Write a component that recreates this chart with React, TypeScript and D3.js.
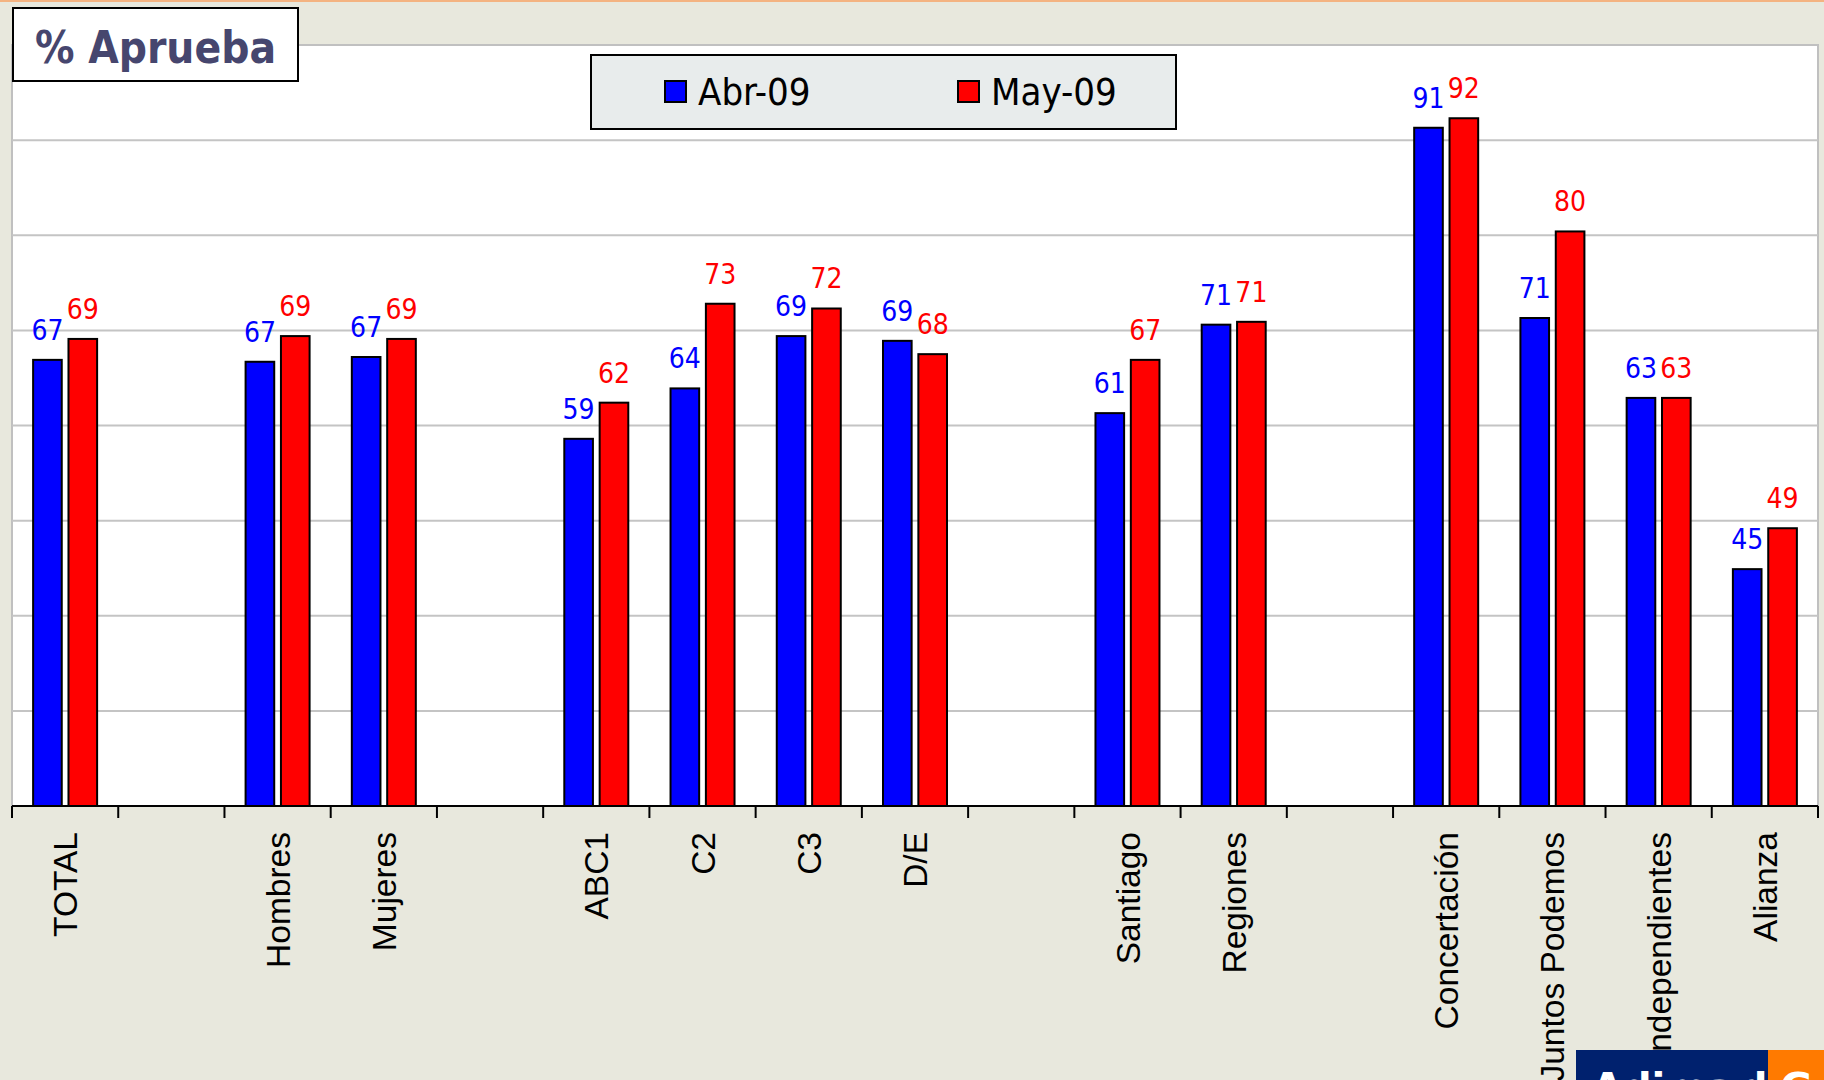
import React, { useEffect, useRef } from "react";
import * as d3 from "d3";

const categories = [
  "TOTAL", "", "Hombres", "Mujeres", "", "ABC1", "C2", "C3", "D/E", "",
  "Santiago", "Regiones", "", "Concertación", "Juntos Podemos", "Independientes", "Alianza",
];
const seriesNames = ["Abr-09", "May-09"];
const abr09: (number | null)[] = [66.9, null, 66.7, 67.2, null, 58.6, 63.9, 69.4, 68.9, null, 61.3, 70.6, null, 91.3, 71.3, 62.9, 44.9];
const may09: (number | null)[] = [69.1, null, 69.4, 69.1, null, 62.4, 72.8, 72.3, 67.5, null, 66.9, 70.9, null, 92.3, 80.4, 62.9, 49.2];
const seriesColors = ["#0000FF", "#FF0000"];
const yTicks = [30, 40, 50, 60, 70, 80, 90];
const title = "% Aprueba";

const W = 1824;
const H = 1080;
const condensed = "'DejaVu Sans Condensed', 'DejaVu Sans', sans-serif";
const arial = "'Liberation Sans', Arial, sans-serif";

export default function App() {
  const ref = useRef<SVGSVGElement | null>(null);

  useEffect(() => {
    document.body.style.margin = "0";
    const svg = d3.select(ref.current);
    svg.selectAll("*").remove();

    const x0 = 12, x1 = 1818, yTop = 45, yBase = 806;
    const x = d3.scaleBand<number>().domain(categories.map((_, i) => i)).range([x0, x1]).padding(0);
    const xs = d3.scaleBand<string>().domain(seriesNames).range([-32, 32]).paddingInner(0.19);
    const y = d3.scaleLinear().domain([20, 100]).range([yBase, yTop]);

    // background
    svg.append("rect").attr("width", W).attr("height", H).attr("fill", "#E8E8DD");
    svg.append("rect").attr("width", W).attr("height", 2).attr("fill", "#F4B381");

    // plot area
    svg.append("rect").attr("x", x0).attr("y", yTop).attr("width", x1 - x0).attr("height", yBase - yTop)
      .attr("fill", "#FFFFFF").attr("stroke", "#C0C0C0").attr("stroke-width", 2);

    // gridlines
    svg.append("g").selectAll("line").data(yTicks).join("line")
      .attr("x1", x0).attr("x2", x1).attr("y1", (d) => y(d)).attr("y2", (d) => y(d))
      .attr("stroke", "#C4C4C4").attr("stroke-width", 2);

    // bars
    const series = [abr09, may09];
    series.forEach((vals, si) => {
      const g = svg.append("g");
      const data = vals.map((v, i) => ({ v, i })).filter((d) => d.v !== null) as { v: number; i: number }[];
      g.selectAll("rect").data(data).join("rect")
        .attr("x", (d) => (x(d.i) as number) + x.bandwidth() / 2 + (xs(seriesNames[si]) as number))
        .attr("y", (d) => y(d.v))
        .attr("width", xs.bandwidth())
        .attr("height", (d) => yBase - y(d.v))
        .attr("fill", seriesColors[si])
        .attr("stroke", "#000").attr("stroke-width", 2);
      g.selectAll("text").data(data).join("text")
        .attr("x", (d) => (x(d.i) as number) + x.bandwidth() / 2 + (xs(seriesNames[si]) as number) + xs.bandwidth() / 2)
        .attr("y", (d) => y(d.v) - 20)
        .attr("text-anchor", "middle")
        .attr("font-family", condensed)
        .attr("font-size", 28)
        .attr("fill", seriesColors[si])
        .text((d) => String(Math.round(d.v)));
    });

    // axis baseline and ticks
    svg.append("line").attr("x1", x0).attr("x2", x1).attr("y1", yBase).attr("y2", yBase)
      .attr("stroke", "#000").attr("stroke-width", 2);
    const tickXs = categories.map((_, i) => x(i) as number).concat([x1]);
    svg.append("g").selectAll("line").data(tickXs).join("line")
      .attr("x1", (d) => d).attr("x2", (d) => d).attr("y1", yBase).attr("y2", yBase + 12)
      .attr("stroke", "#000").attr("stroke-width", 2);

    // category labels
    svg.append("g").selectAll("text").data(categories.map((c, i) => ({ c, i })).filter((d) => d.c !== "")).join("text")
      .attr("transform", (d) => `translate(${(x(d.i) as number) + x.bandwidth() / 2},832) rotate(-90)`)
      .attr("text-anchor", "end")
      .attr("dy", "0.36em")
      .attr("font-family", arial)
      .attr("font-size", 33.5)
      .attr("fill", "#000")
      .text((d) => d.c);

    // title box
    svg.append("rect").attr("x", 13).attr("y", 8).attr("width", 285).attr("height", 73)
      .attr("fill", "#FFFFFF").attr("stroke", "#000").attr("stroke-width", 2);
    svg.append("text").attr("x", 35).attr("y", 63)
      .attr("font-family", condensed).attr("font-weight", "bold").attr("font-size", 44)
      .attr("fill", "#46466E").attr("textLength", 241).attr("lengthAdjust", "spacingAndGlyphs")
      .text(title);

    // legend
    svg.append("rect").attr("x", 591).attr("y", 55).attr("width", 585).attr("height", 74)
      .attr("fill", "#E8ECEC").attr("stroke", "#000").attr("stroke-width", 2);
    const legX = [665, 958];
    seriesNames.forEach((s, i) => {
      svg.append("rect").attr("x", legX[i]).attr("y", 81).attr("width", 21).attr("height", 21)
        .attr("fill", seriesColors[i]).attr("stroke", "#000").attr("stroke-width", 2);
      svg.append("text").attr("x", legX[i] + 33).attr("y", 105)
        .attr("font-family", condensed).attr("font-size", 38).attr("fill", "#000").text(s);
    });

    // footer logo strip
    svg.append("rect").attr("x", 1576).attr("y", 1050).attr("width", 192).attr("height", 30).attr("fill", "#00216E");
    svg.append("rect").attr("x", 1768).attr("y", 1050).attr("width", 56).attr("height", 30).attr("fill", "#FF7A00");
    svg.append("text").attr("x", 1592).attr("y", 1102).attr("font-family", "'DejaVu Sans', sans-serif")
      .attr("font-weight", "bold").attr("font-size", 40).attr("fill", "#FFFFFF").text("Adimark");
    svg.append("text").attr("x", 1780).attr("y", 1102).attr("font-family", "'DejaVu Sans', sans-serif")
      .attr("font-weight", "bold").attr("font-size", 40).attr("fill", "#FFFFFF").text("G");
  }, []);

  return (
    <svg ref={ref} width={W} height={H} style={{ display: "block", position: "absolute", left: 0, top: 0 }} />
  );
}
